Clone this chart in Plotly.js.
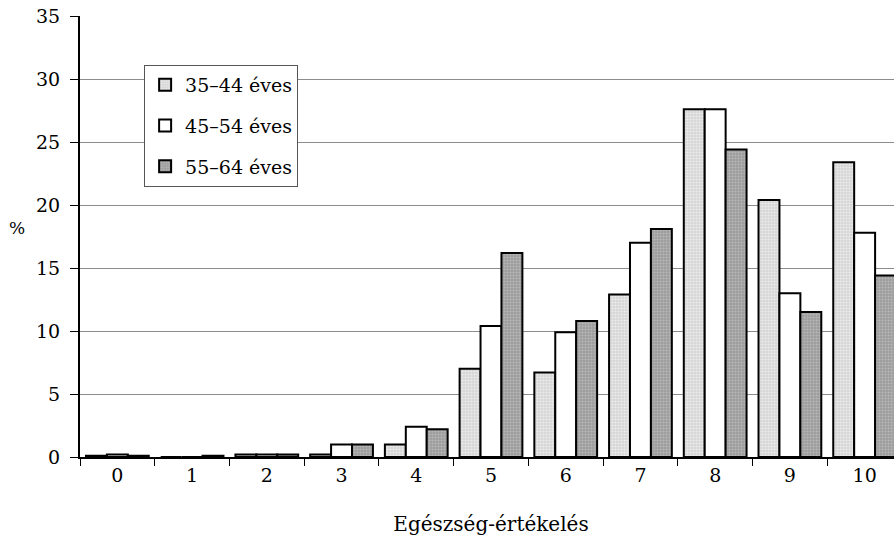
<!DOCTYPE html>
<html>
<head>
<meta charset="utf-8">
<script src="https://cdn.plot.ly/plotly-3.0.1.min.js"></script>
<style>
  html, body { margin: 0; padding: 0; background: #fff; overflow: hidden; }
  #chart { width: 902px; height: 544px; }
</style>
</head>
<body>
<div id="chart"></div>
<script>
// Self-rated health score (0–10), share of respondents by age group, %
const scores = ["0", "1", "2", "3", "4", "5", "6", "7", "8", "9", "10"];
const age35_44 = [0.1, 0, 0.2, 0.2, 1.0, 7.0, 6.7, 12.9, 27.6, 20.4, 23.4];
const age45_54 = [0.2, 0, 0.2, 1.0, 2.4, 10.4, 9.9, 17.0, 27.6, 13.0, 17.8];
const age55_64 = [0.1, 0.1, 0.2, 1.0, 2.2, 16.2, 10.8, 18.1, 24.4, 11.5, 14.4];
const seriesNames = ["35–44 éves", "45–54 éves", "55–64 éves"];
const yTicks = [0, 5, 10, 15, 20, 25, 30, 35];

const FONT = "'DejaVu Serif', 'Liberation Serif', serif";
const outline = { color: "#000", width: 2 };

function barTrace(name, values, group, fill) {
  return {
    type: "bar",
    name: name,
    x: scores,
    y: values,
    legendgroup: group,
    marker: Object.assign({ line: outline }, fill)
  };
}

const traces = [
  barTrace(seriesNames[0], age35_44, "a", {
    color: "#dcdcdc",
    pattern: { shape: ".", bgcolor: "#d6d6d6", fgcolor: "#ededed", size: 3, solidity: 0.4, fillmode: "replace" }
  }),
  barTrace(seriesNames[1], age45_54, "b", { color: "#ffffff" }),
  barTrace(seriesNames[2], age55_64, "c", {
    color: "#a4a4a4",
    pattern: { shape: ".", bgcolor: "#9c9c9c", fgcolor: "#b8b8b8", size: 3, solidity: 0.4, fillmode: "replace" }
  })
];

const layout = {
  width: 902,
  height: 544,
  margin: { l: 80, r: 0, t: 16, b: 87 },
  paper_bgcolor: "#fff",
  plot_bgcolor: "#fff",
  font: { family: FONT, size: 19, color: "#000" },
  barmode: "group",
  bargap: 0.16,
  bargroupgap: 0,
  showlegend: true,
  legend: {
    x: 0.078, xanchor: "left",
    y: 0.889, yanchor: "top",
    bgcolor: "#fff",
    bordercolor: "#555",
    borderwidth: 1,
    traceorder: "grouped",
    tracegroupgap: 13,
    itemwidth: 30,
    font: { family: FONT, size: 19, color: "#000" }
  },
  xaxis: {
    type: "category",
    categoryorder: "array",
    categoryarray: scores,
    tickson: "boundaries",
    ticks: "outside",
    ticklen: 7,
    tickcolor: "#000",
    tickwidth: 1,
    showline: true,
    linecolor: "#000",
    linewidth: 2,
    showgrid: false,
    tickfont: { family: FONT, size: 19 },
    title: { text: "Egészség-értékelés", font: { family: FONT, size: 20 }, standoff: 32 }
  },
  yaxis: {
    range: [0, 35],
    tickvals: yTicks,
    ticktext: yTicks.map(String),
    ticks: "outside",
    ticklen: 8,
    tickcolor: "#000",
    tickwidth: 1,
    ticklabelstandoff: 6,
    showline: true,
    linecolor: "#000",
    linewidth: 2,
    showgrid: true,
    gridcolor: "#8c8c8c",
    gridwidth: 1,
    zeroline: false,
    tickfont: { family: FONT, size: 19 }
  },
  annotations: [
    {
      text: "%",
      xref: "paper", yref: "paper",
      x: -0.077, y: 0.52,
      xanchor: "center", yanchor: "middle",
      showarrow: false,
      font: { family: FONT, size: 17 }
    }
  ]
};

Plotly.newPlot("chart", traces, layout, { displayModeBar: false, staticPlot: true });
</script>
</body>
</html>
